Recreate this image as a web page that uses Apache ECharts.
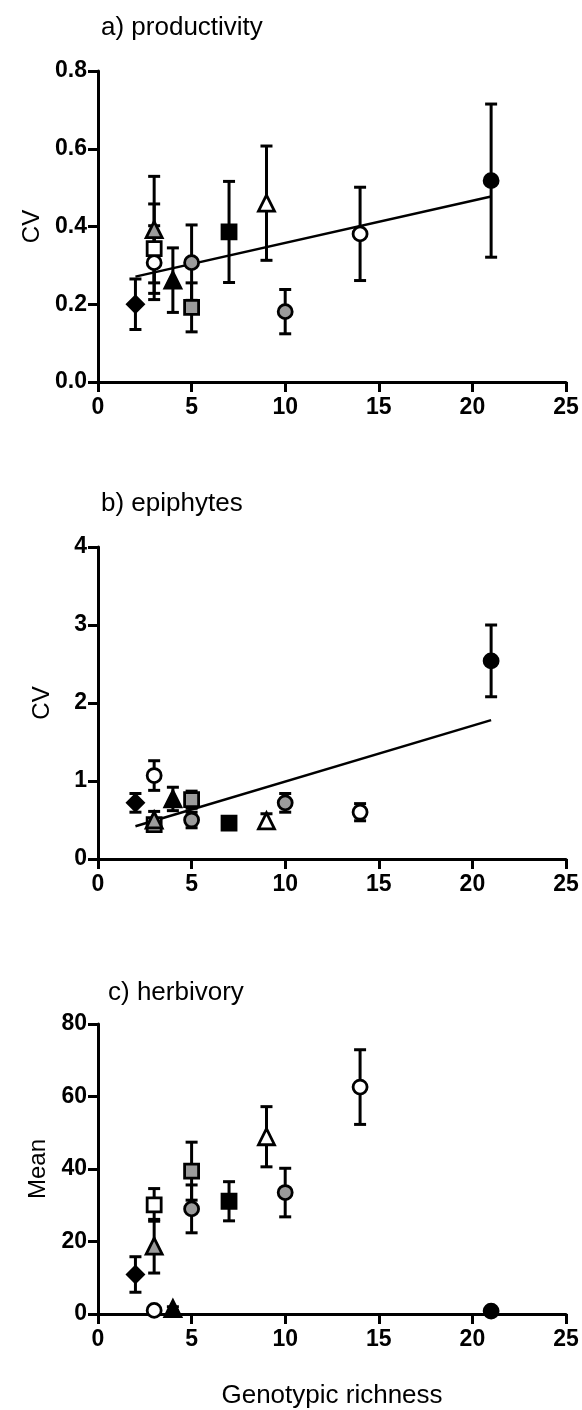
<!DOCTYPE html>
<html>
<head>
<meta charset="utf-8">
<title>CV and mean by genotypic richness</title>
<script src="https://cdn.jsdelivr.net/npm/echarts@6/dist/echarts.min.js"></script>
<style>
  html, body { margin: 0; padding: 0; background: #fff; }
  #chart { width: 582px; height: 1410px; }
</style>
</head>
<body>
<div id="chart"></div>
<script>
// one entry per plot, same order in every panel
const richness = [2, 3, 3, 3, 4, 5, 5, 7, 9, 10, 14, 21];
const symbols = ['diamond', 'circle', 'rect', 'triangle', 'triangle', 'circle', 'rect', 'rect', 'triangle', 'circle', 'circle', 'circle'];
const fills = ['black', 'white', 'white', 'grey', 'black', 'grey', 'grey', 'black', 'white', 'grey', 'white', 'black'];

const productivityCV = [0.200, 0.307, 0.343, 0.392, 0.262, 0.307, 0.192, 0.386, 0.460, 0.181, 0.381, 0.518];
const productivityErr = [0.065, 0.095, 0.115, 0.137, 0.083, 0.097, 0.063, 0.130, 0.147, 0.057, 0.120, 0.197];
const productivityFit = [[2, 0.271], [21, 0.477]];

const epiphyteCV = [0.72, 1.07, 0.44, 0.50, 0.77, 0.50, 0.76, 0.46, 0.49, 0.72, 0.60, 2.54];
const epiphyteErr = [0.12, 0.19, 0.07, 0.11, 0.15, 0.10, 0.11, 0.05, 0.09, 0.12, 0.11, 0.46];
const epiphyteFit = [[2, 0.42], [21, 1.78]];

const herbivoryMean = [10.9, 1.0, 30.1, 18.7, 1.5, 29.0, 39.4, 31.1, 48.9, 33.5, 62.6, 0.8];
const herbivoryErr = [4.9, 0.5, 4.5, 7.4, 0.5, 6.6, 8.0, 5.4, 8.3, 6.7, 10.3, 0.4];

const xTicks = [0, 5, 10, 15, 20, 25];

const fillColor = { black: '#000', grey: '#9b9b9b', white: '#fff' };
const symbolSize = { circle: 14, rect: 14, diamond: 16, triangle: 16 };
const font = 'Liberation Sans, Arial, sans-serif';

const chart = echarts.init(document.getElementById('chart'));

const grids = [
  { left: 98, top: 71, width: 468, height: 311 },
  { left: 98, top: 547, width: 468, height: 312 },
  { left: 98, top: 1024, width: 468, height: 314 },
];

function axisCommon() {
  return {
    axisLine: { onZero: false, lineStyle: { color: '#000', width: 3 } },
    axisTick: { length: 10, lineStyle: { color: '#000', width: 3 } },
    splitLine: { show: false },
    axisLabel: { color: '#000', fontFamily: font, fontWeight: 'bold', fontSize: 23 },
  };
}

function xAxis(idx, name) {
  const a = axisCommon();
  return Object.assign(a, {
    type: 'value', gridIndex: idx,
    min: xTicks[0], max: xTicks[xTicks.length - 1], interval: xTicks[1] - xTicks[0],
    name: name || '', nameLocation: 'middle', nameGap: 69,
    nameTextStyle: { color: '#000', fontFamily: font, fontSize: 26 },
    axisLabel: Object.assign(a.axisLabel, { margin: 14 }),
  });
}

function yAxis(idx, max, interval, name, digits) {
  const a = axisCommon();
  return Object.assign(a, {
    type: 'value', gridIndex: idx, min: 0, max: max, interval: interval,
    name: name, nameLocation: 'middle', nameGap: 44,
    nameTextStyle: { color: '#000', fontFamily: font, fontSize: 24 },
    axisLabel: Object.assign(a.axisLabel, {
      margin: 11,
      formatter: v => v.toFixed(digits),
    }),
  });
}

// error bars drawn through the axis scales
function errorSeries(idx, means, errs) {
  return {
    type: 'custom', xAxisIndex: idx, yAxisIndex: idx, z: 2,
    clip: false,
    data: richness.map((x, i) => [x, means[i] - errs[i], means[i] + errs[i]]),
    renderItem: (params, api) => {
      const top = api.coord([api.value(0), api.value(2)]);
      const bot = api.coord([api.value(0), api.value(1)]);
      const w = 6;
      const st = { stroke: '#000', lineWidth: 3 };
      return {
        type: 'group',
        children: [
          { type: 'line', shape: { x1: top[0], y1: top[1], x2: bot[0], y2: bot[1] }, style: st },
          { type: 'line', shape: { x1: top[0] - w, y1: top[1], x2: top[0] + w, y2: top[1] }, style: st },
          { type: 'line', shape: { x1: bot[0] - w, y1: bot[1], x2: bot[0] + w, y2: bot[1] }, style: st },
        ],
      };
    },
  };
}

function pointSeries(idx, means) {
  return {
    type: 'scatter', xAxisIndex: idx, yAxisIndex: idx, z: 4, clip: false,
    data: richness.map((x, i) => ({
      value: [x, means[i]],
      symbol: symbols[i],
      symbolSize: symbolSize[symbols[i]],
      itemStyle: { color: fillColor[fills[i]], borderColor: '#000', borderWidth: 2.8, opacity: 1 },
    })),
    emphasis: { disabled: true },
  };
}

function fitSeries(idx, pts) {
  return {
    type: 'line', xAxisIndex: idx, yAxisIndex: idx, z: 3,
    data: pts, symbol: 'none',
    lineStyle: { color: '#000', width: 2.5 },
  };
}

function title(text, left, top) {
  return {
    text: text, left: left, top: top,
    textStyle: { color: '#000', fontFamily: font, fontWeight: 'normal', fontSize: 26 },
  };
}

const option = {
  animation: false,
  backgroundColor: '#fff',
  title: [
    title('a) productivity', 96, 10),
    title('b) epiphytes', 96, 486),
    title('c) herbivory', 103, 975),
  ],
  grid: grids,
  xAxis: [xAxis(0), xAxis(1), xAxis(2, 'Genotypic richness')],
  yAxis: [
    yAxis(0, 0.8, 0.2, 'CV', 1),
    yAxis(1, 4, 1, 'CV', 0),
    yAxis(2, 80, 20, 'Mean', 0),
  ],
  series: [
    fitSeries(0, productivityFit),
    errorSeries(0, productivityCV, productivityErr),
    pointSeries(0, productivityCV),
    fitSeries(1, epiphyteFit),
    errorSeries(1, epiphyteCV, epiphyteErr),
    pointSeries(1, epiphyteCV),
    errorSeries(2, herbivoryMean, herbivoryErr),
    pointSeries(2, herbivoryMean),
  ],
};

chart.setOption(option);
</script>
</body>
</html>
